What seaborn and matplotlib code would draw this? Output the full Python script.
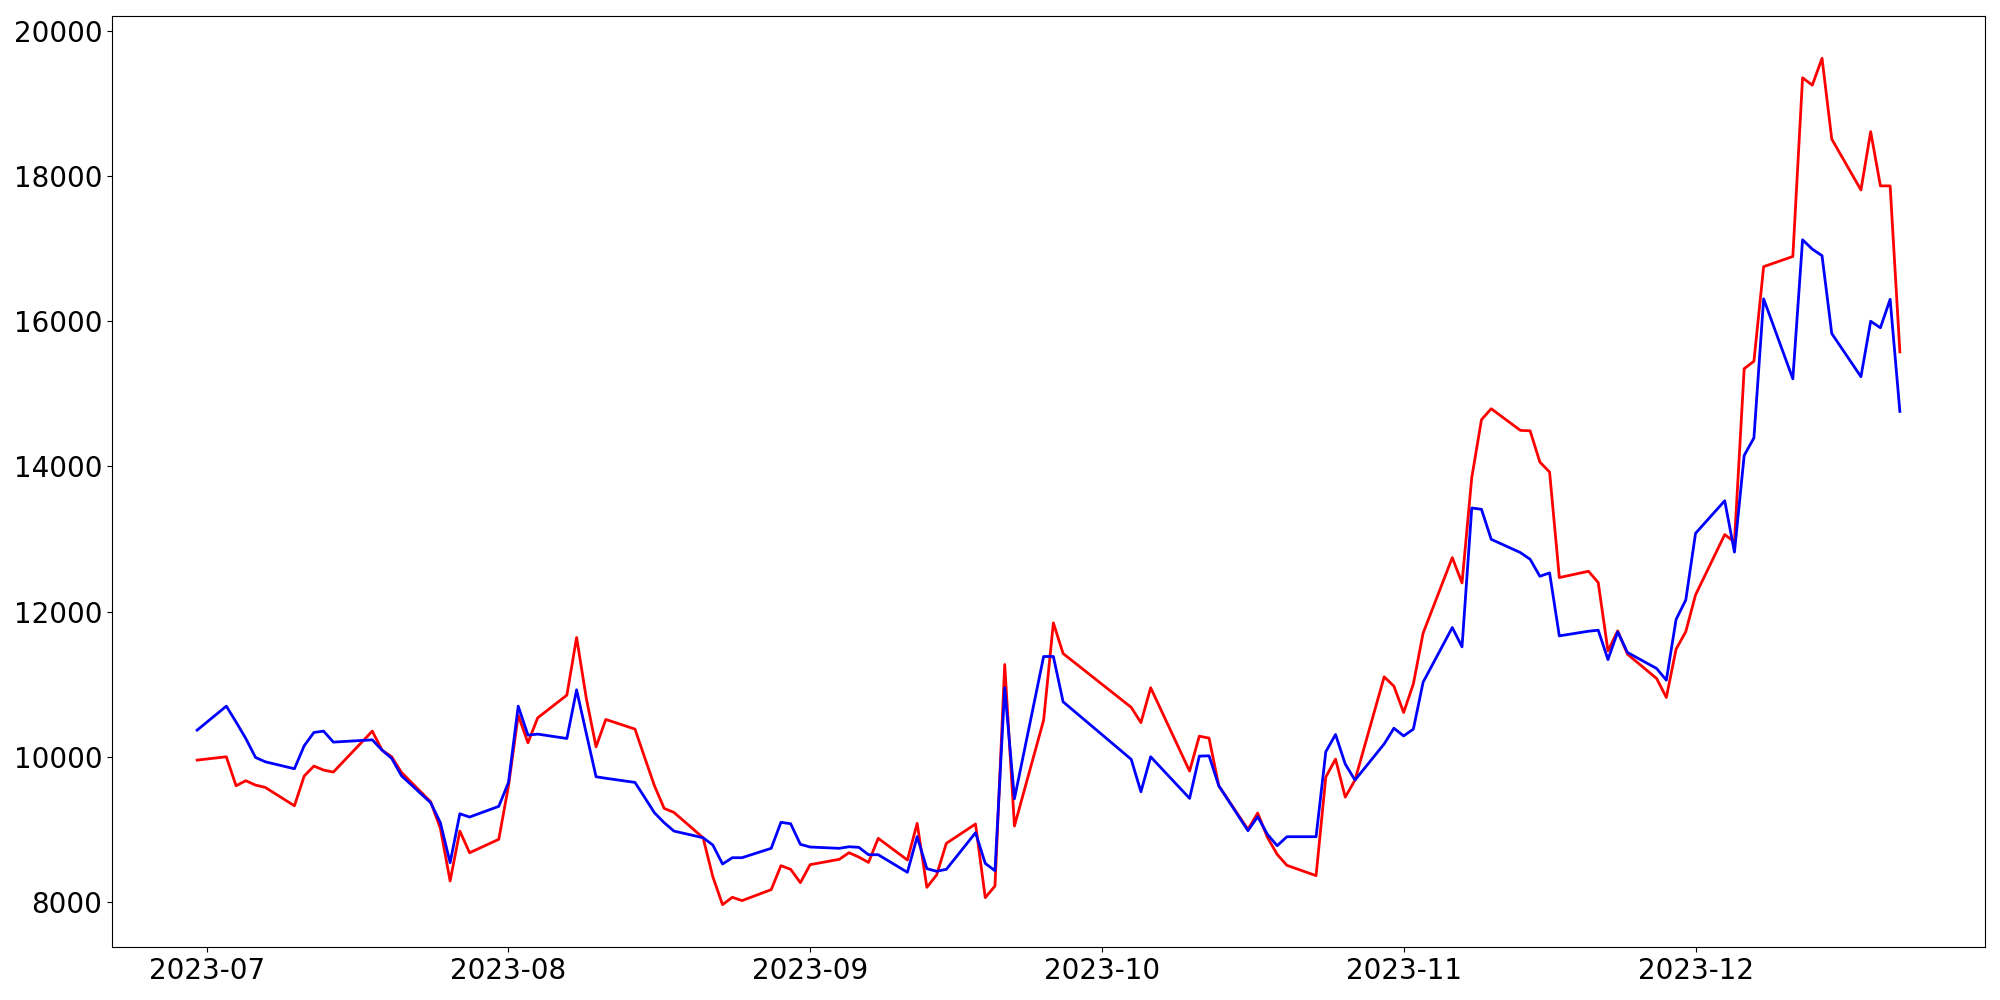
import pandas as pd
import matplotlib
matplotlib.use("Agg")
import matplotlib.pyplot as plt
import seaborn as sns

# --- dane ---
dates = [
    "2023-06-30", "2023-07-03", "2023-07-04", "2023-07-05", "2023-07-06", "2023-07-07",
    "2023-07-10", "2023-07-11", "2023-07-12", "2023-07-13", "2023-07-14", "2023-07-18",
    "2023-07-19", "2023-07-20", "2023-07-21", "2023-07-24", "2023-07-25", "2023-07-26",
    "2023-07-27", "2023-07-28", "2023-07-31",
    "2023-08-01", "2023-08-02", "2023-08-03", "2023-08-04", "2023-08-07", "2023-08-08",
    "2023-08-09", "2023-08-10", "2023-08-11", "2023-08-14", "2023-08-15", "2023-08-16",
    "2023-08-17", "2023-08-18", "2023-08-21", "2023-08-22", "2023-08-23", "2023-08-24",
    "2023-08-25", "2023-08-28", "2023-08-29", "2023-08-30", "2023-08-31",
    "2023-09-01", "2023-09-04", "2023-09-05", "2023-09-06", "2023-09-07", "2023-09-08",
    "2023-09-11", "2023-09-12", "2023-09-13", "2023-09-14", "2023-09-15", "2023-09-18",
    "2023-09-19", "2023-09-20", "2023-09-21", "2023-09-22", "2023-09-25", "2023-09-26",
    "2023-09-27",
    "2023-10-04", "2023-10-05", "2023-10-06", "2023-10-10", "2023-10-11", "2023-10-12",
    "2023-10-13", "2023-10-16", "2023-10-17", "2023-10-18", "2023-10-19", "2023-10-20",
    "2023-10-23", "2023-10-24", "2023-10-25", "2023-10-26", "2023-10-27", "2023-10-30",
    "2023-10-31",
    "2023-11-01", "2023-11-02", "2023-11-03", "2023-11-06", "2023-11-07", "2023-11-08",
    "2023-11-09", "2023-11-10", "2023-11-13", "2023-11-14", "2023-11-15", "2023-11-16",
    "2023-11-17", "2023-11-20", "2023-11-21", "2023-11-22", "2023-11-23", "2023-11-24",
    "2023-11-27", "2023-11-28", "2023-11-29", "2023-11-30",
    "2023-12-01", "2023-12-04", "2023-12-05", "2023-12-06", "2023-12-07", "2023-12-08",
    "2023-12-11", "2023-12-12", "2023-12-13", "2023-12-14", "2023-12-15", "2023-12-18",
    "2023-12-19", "2023-12-20", "2023-12-21", "2023-12-22",
]

red_values = [
    9955, 10001, 9602, 9671, 9611, 9579,
    9326, 9735, 9873, 9818, 9790, 10354,
    10093, 10000, 9786, 9381, 9015, 8290,
    8978, 8679, 8864,
    9600, 10574, 10193, 10537, 10850, 11643,
    10804, 10138, 10515, 10382, 9990, 9602,
    9290, 9235, 8886, 8349, 7964, 8066,
    8020, 8171, 8501, 8451, 8267,
    8515, 8589, 8680, 8620, 8546, 8878,
    8579, 9084, 8203, 8373, 8809, 9075,
    8061, 8221, 11272, 9047, 10506, 11845,
    11423,
    10682, 10471, 10952, 9804, 10285, 10258,
    9602, 9001, 9226, 8891, 8657, 8506,
    8364, 9722, 9969, 9445, 9680, 11102,
    10973,
    10611, 11005, 11703, 12744, 12395, 13845,
    14643, 14794, 14496, 14490, 14060, 13922,
    12469, 12556, 12400, 11459, 11735, 11414,
    11079, 10818, 11483, 11725,
    12230, 13061, 12960, 15346, 15448, 16751,
    16891, 19352, 19250, 19620, 18508, 17807,
    18610, 17863, 17863, 15577,
]

blue_values = [
    10368, 10698, 10480, 10253, 9992, 9932,
    9836, 10152, 10336, 10354, 10203, 10234,
    10093, 9978, 9740, 9368, 9093, 8542,
    9216, 9171, 9318,
    9648, 10698, 10299, 10313, 10253, 10923,
    10320, 9726, 9705, 9648, 9440, 9230,
    9093, 8978, 8886, 8786, 8524, 8611,
    8611, 8740, 9098, 9079, 8795,
    8758, 8740, 8762, 8754, 8652, 8652,
    8410, 8900, 8460, 8424, 8451, 8955,
    8533, 8432, 10950, 9423, 11382, 11382,
    10758,
    9966, 9519, 10001, 9428, 10010, 10014,
    9602, 8983, 9176, 8933, 8776, 8900,
    8900, 10070, 10308, 9900, 9680, 10178,
    10394,
    10288, 10382, 11028, 11781, 11515, 13427,
    13409, 12996, 12813, 12721, 12487, 12533,
    11666, 11730, 11744, 11340, 11721, 11438,
    11217, 11056, 11892, 12162,
    13078, 13527, 12820, 14151, 14392, 16307,
    15206, 17121, 16992, 16902, 15830, 15235,
    15999, 15909, 16301, 14757,
]

df = pd.DataFrame({
    "date": pd.to_datetime(dates),
    "red": red_values,
    "blue": blue_values,
})

fig, ax = plt.subplots(figsize=(20, 10), dpi=100)

# czerwona pod spodem, niebieska na wierzchu
sns.lineplot(data=df, x="date", y="red", ax=ax, color="red", linewidth=2)
sns.lineplot(data=df, x="date", y="blue", ax=ax, color="blue", linewidth=2)

ax.set_xlabel("")
ax.set_ylabel("")
ax.tick_params(axis="both", labelsize=20)

plt.subplots_adjust(left=0.056, right=0.9925, top=0.984, bottom=0.053)
plt.savefig("out.png", dpi=100)
